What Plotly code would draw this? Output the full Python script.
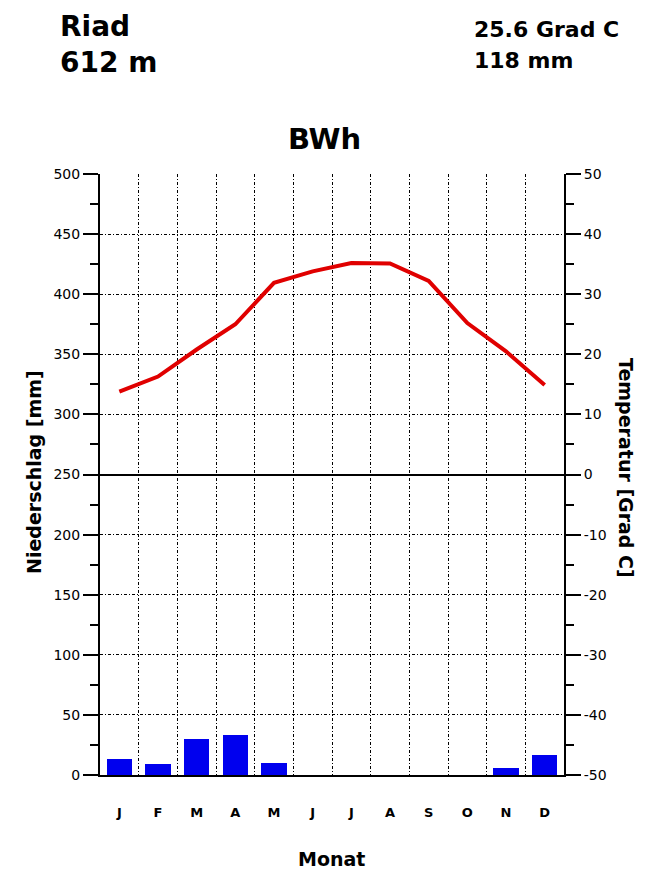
import plotly.graph_objects as go

# ---- data ----
months = ["J", "F", "M", "A", "M", "J", "J", "A", "S", "O", "N", "D"]
month_pos = [1, 2, 3, 4, 5, 6, 7, 8, 9, 10, 11, 12]
precip_mm = [13, 9, 30, 33, 10, 0, 0, 0, 0, 0, 6, 17]
temp_c = [13.8, 16.3, 20.8, 25.0, 31.9, 33.8, 35.2, 35.1, 32.2, 25.2, 20.5, 14.9]
precip_ticks = [0, 50, 100, 150, 200, 250, 300, 350, 400, 450, 500]
temp_ticks = [-50, -40, -30, -20, -10, 0, 10, 20, 30, 40, 50]

station = "Riad"
altitude = "612 m"
mean_temp = "25.6 Grad C"
total_precip = "118 mm"
climate_class = "BWh"

# ---- layout geometry (page body adds an 8px offset) ----
OFF = 8
W, H = 648 - OFF, 872 - OFF
L, R, T, B = 100 - OFF, 84, 174 - OFF, 97
PW, PH = W - L - R, H - T - B


def px(x):
    return (x - OFF - L) / PW


def py(y):
    return (H - B - (y - OFF)) / PH


FONT = "DejaVu Sans"
DASH = "3px,2px,1px,2px"

fig = go.Figure()

fig.add_trace(go.Bar(
    x=month_pos, y=precip_mm, width=0.65,
    marker=dict(color="#0000ee", line=dict(width=0)),
    yaxis="y", showlegend=False, hoverinfo="skip",
))

fig.add_trace(go.Scatter(
    x=month_pos, y=temp_c, mode="lines",
    line=dict(color="#e00000", width=4),
    yaxis="y2", showlegend=False, hoverinfo="skip",
))

fig.update_layout(
    width=W, height=H,
    margin=dict(l=L, r=R, t=T, b=B, pad=0),
    paper_bgcolor="white", plot_bgcolor="white",
    font=dict(family=FONT, color="black"),
    bargap=0,
    xaxis=dict(
        range=[0.5, 12.5], tickmode="array", tickvals=month_pos, ticktext=months,
        ticks="outside", ticklen=24, tickcolor="rgba(0,0,0,0)",
        tickfont=dict(family=FONT, size=13, weight="bold"),
        showgrid=False, zeroline=False,
        showline=True, linecolor="black", linewidth=2,
        minor=dict(tick0=0.5, dtick=1, showgrid=True, gridcolor="black",
                   gridwidth=1, griddash=DASH, ticks=""),
        fixedrange=True,
    ),
    yaxis=dict(
        range=[0, 500], tickmode="array", tickvals=precip_ticks,
        ticktext=[str(v) for v in precip_ticks],
        ticks="outside", ticklen=15, tickwidth=1.5, tickcolor="black",
        tickfont=dict(family=FONT, size=14),
        showgrid=True, gridcolor="black", gridwidth=1, griddash=DASH,
        zeroline=False, showline=True, linecolor="black", linewidth=2,
        minor=dict(dtick=25, ticks="outside", ticklen=8, tickwidth=1.5,
                   tickcolor="black", showgrid=False),
        fixedrange=True,
    ),
    yaxis2=dict(
        range=[-50, 50], overlaying="y", side="right", tickmode="array",
        tickvals=temp_ticks, ticktext=[str(v) for v in temp_ticks],
        ticks="outside", ticklen=15, tickwidth=1.5, tickcolor="black",
        tickfont=dict(family=FONT, size=14),
        showgrid=False, zeroline=True, zerolinecolor="black", zerolinewidth=2,
        showline=True, linecolor="black", linewidth=2,
        minor=dict(dtick=5, ticks="outside", ticklen=8, tickwidth=1.5,
                   tickcolor="black", showgrid=False),
        fixedrange=True,
    ),
)

ann = [
    dict(text=station, x=px(58), y=py(26), xanchor="left", yanchor="middle",
         font=dict(size=28, weight="bold")),
    dict(text=altitude, x=px(58), y=py(63), xanchor="left", yanchor="middle",
         font=dict(size=28, weight="bold")),
    dict(text=mean_temp, x=px(472), y=py(29), xanchor="left", yanchor="middle",
         font=dict(size=22, weight="bold")),
    dict(text=total_precip, x=px(472), y=py(61), xanchor="left", yanchor="middle",
         font=dict(size=22, weight="bold")),
    dict(text=climate_class, x=px(324), y=py(139), xanchor="center", yanchor="middle",
         font=dict(size=29, weight="bold")),
    dict(text="Monat", x=px(331), y=py(859), xanchor="center", yanchor="middle",
         font=dict(size=19, weight="bold")),
    dict(text="Niederschlag [mm]", x=px(34), y=py(472), xanchor="center",
         yanchor="middle", textangle=-90, font=dict(size=19, weight="bold")),
    dict(text="Temperatur [Grad C]", x=px(626), y=py(468), xanchor="center",
         yanchor="middle", textangle=90, font=dict(size=19, weight="bold")),
]
for a in ann:
    a.update(xref="paper", yref="paper", showarrow=False)
    a["font"].update(family=FONT, color="black")
fig.update_layout(annotations=ann)

fig.write_html("out.html", config={"displayModeBar": False})
